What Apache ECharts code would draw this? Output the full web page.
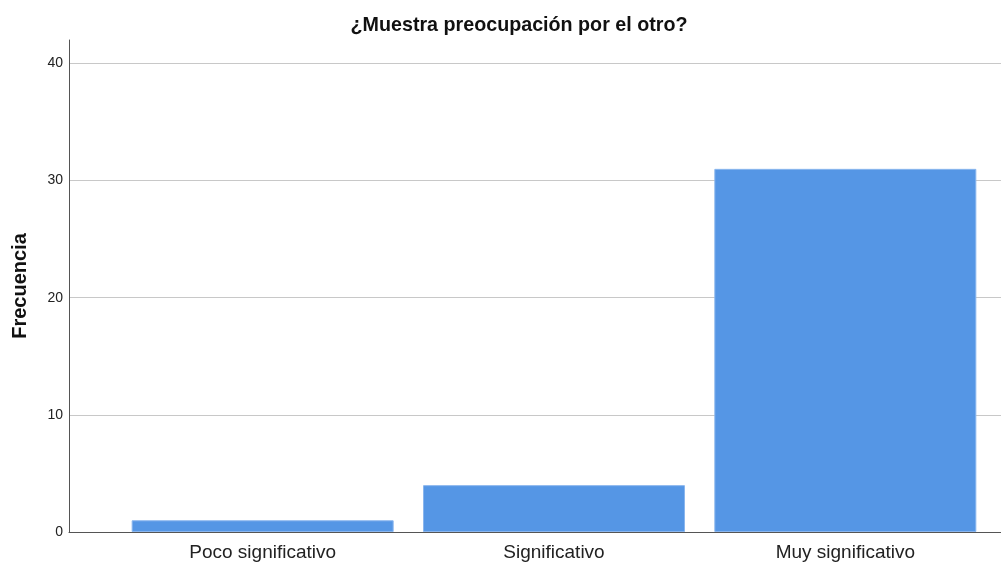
<!DOCTYPE html>
<html>
<head>
<meta charset="utf-8">
<script src="https://cdn.jsdelivr.net/npm/echarts@6/dist/echarts.min.js"></script>
<style>
	html, body { margin: 0; padding: 0; background: #fff; }
	#chart { width: 1001px; height: 562px; }
</style>
</head>
<body>
<div id="chart"></div>
<script>
var categories = ['Poco significativo', 'Significativo', 'Muy significativo'];
var frecuencia = [1, 4, 31];
var yTicks = [0, 10, 20, 30, 40];

var chart = echarts.init(document.getElementById('chart'));
var font = 'Arial, "Liberation Sans", sans-serif';

chart.setOption({
	animation: false,
	title: {
		text: '¿Muestra preocupación por el otro?',
		left: 514,
		top: 11,
		textAlign: 'center',
		textStyle: { fontFamily: font, fontSize: 19.7, fontWeight: 'bold', color: '#111' }
	},
	grid: [
		// axes frame
		{ left: 69, right: 0, top: 40, bottom: 30, outerBoundsMode: 'none' },
		// bars
		{ left: 117, right: 10, top: 40, bottom: 30, outerBoundsMode: 'none' }
	],
	xAxis: [{
		gridIndex: 0,
		type: 'category',
		data: [''],
		axisLine: { lineStyle: { color: '#555', width: 1 } },
		axisTick: { show: false },
		axisLabel: { show: false }
	}, {
		gridIndex: 1,
		type: 'category',
		data: categories,
		axisLine: { show: false },
		axisTick: { show: false },
		axisLabel: { fontFamily: font, fontSize: 19, color: '#222', margin: 11 }
	}],
	yAxis: [{
		gridIndex: 0,
		type: 'value',
		min: 0,
		max: 42,
		interval: 10,
		name: 'Frecuencia',
		nameLocation: 'middle',
		nameGap: 39,
		nameTextStyle: { fontFamily: font, fontSize: 20, fontWeight: 'bold', color: '#111' },
		axisLine: { show: true, lineStyle: { color: '#555', width: 1 } },
		axisTick: { show: false },
		axisLabel: {
			fontFamily: font, fontSize: 14, color: '#222', margin: 6,
			formatter: function (v) { return yTicks.indexOf(v) >= 0 ? v : ''; }
		},
		splitLine: { showMaxLine: false, lineStyle: { color: '#c8c8c8', width: 1 } }
	}, {
		gridIndex: 1,
		type: 'value',
		min: 0,
		max: 42,
		interval: 10,
		show: false,
		splitLine: { show: false }
	}],
	series: [{
		type: 'bar',
		xAxisIndex: 1,
		yAxisIndex: 1,
		data: frecuencia,
		barWidth: 262,
		itemStyle: { color: '#5596e5', borderColor: '#8ab6ee', borderWidth: 1 }
	}]
});
</script>
</body>
</html>
